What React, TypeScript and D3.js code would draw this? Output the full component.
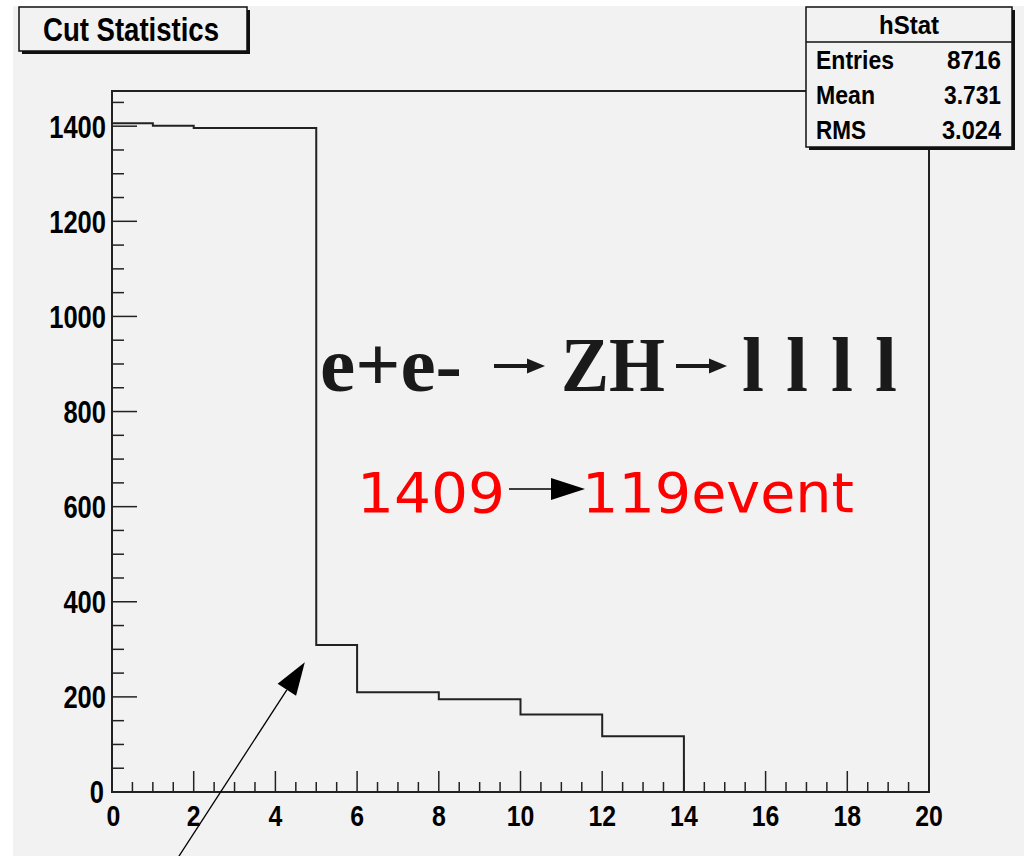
import React from "react";
import * as d3 from "d3";

// ---- data ----
const binEdges = [0,1,2,3,4,5,6,7,8,9,10,11,12,13,14,15,16,17,18,19,20];
const binCounts = [1406,1401,1396,1396,1396,309,210,210,195,195,163,163,117,117,0,0,0,0,0,0];
const xTicksMajor = [0,2,4,6,8,10,12,14,16,18,20];
const yTicksMajor = [0,200,400,600,800,1000,1200,1400];
const statLabels = ["Entries","Mean","RMS"];
const statValues = ["8716","3.731","3.024"];
const title = "Cut Statistics";
const statTitle = "hStat";
// annotation arrow in data units: [x, y] tail -> tip
const annoTail = [1.45, -160];
const annoTip = [4.72, 273];

const W = 1024, H = 856;
const X0 = 112, X1 = 929, Y0 = 792, Y1 = 91;
const BG = "#f2f2f2";
const INK = "#222";
const statLabelLen = [78, 59, 50];
const statValueLen = [54, 57, 59];

export default function App() {
  const x = d3.scaleLinear().domain([0, 20]).range([X0, X1]);
  const y = d3.scaleLinear().domain([0, 1474]).range([Y0, Y1]);

  const pts: [number, number][] = [[x(0), y(0)]];
  binCounts.forEach((c, i) => {
    pts.push([x(binEdges[i]), y(c)]);
    pts.push([x(binEdges[i + 1]), y(c)]);
  });
  pts.push([x(20), y(0)]);
  const histPath = d3.line()(pts) || "";

  const xMinor = d3.range(0, 20.001, 0.5);
  const yMinor = d3.range(0, 1474, 50);

  const tx = x(annoTip[0]), ty = y(annoTip[1]);
  const sx = x(annoTail[0]), sy = y(annoTail[1]);
  const len = Math.hypot(tx - sx, ty - sy);
  const ux = (tx - sx) / len, uy = (ty - sy) / len;
  const hl = 33, hw = 11;
  const bx = tx - hl * ux, by = ty - hl * uy;
  const head = `M${tx},${ty}L${bx + hw * -uy},${by + hw * ux}L${bx - hw * -uy},${by - hw * ux}Z`;

  const sans = "'Liberation Sans', Arial, sans-serif";

  const bigArrow = (x1: number, x2: number, yy: number) => (
    <g>
      <line x1={x1} x2={x2 - 14} y1={yy} y2={yy} stroke="#1a1a1a" strokeWidth={4} />
      <path d={`M${x2 - 18},${yy - 7.5}L${x2},${yy}L${x2 - 18},${yy + 7.5}Z`} fill="#1a1a1a" />
    </g>
  );

  return (
    <svg width={W} height={H} style={{ position: "absolute", left: 0, top: 0, background: "#fff" }}>
      <rect x={13} y={6} width={W - 13} height={H - 6} fill={BG} />

      <rect x={X0} y={Y1} width={X1 - X0} height={Y0 - Y1} fill="none" stroke={INK} strokeWidth={2} />

      <path d={histPath} fill="none" stroke={INK} strokeWidth={2} />

      {xMinor.map((v) => {
        const major = Math.abs(v / 2 - Math.round(v / 2)) < 1e-6;
        return <line key={"xt" + v} x1={x(v)} x2={x(v)} y1={Y0} y2={Y0 - (major ? 21 : 10)} stroke={INK} strokeWidth={1.5} />;
      })}
      {yMinor.map((v) => {
        const major = v % 200 === 0;
        return <line key={"yt" + v} x1={X0} x2={X0 + (major ? 25 : 12)} y1={y(v)} y2={y(v)} stroke={INK} strokeWidth={1.5} />;
      })}

      {xTicksMajor.map((v) => {
        const s = String(v);
        return (
          <text key={"xl" + v} x={x(v) + (v === 0 ? 1.5 : 0)} y={826} textAnchor="middle" fontFamily={sans} fontWeight="bold" fontSize={30}
            textLength={s.length * 13.8} lengthAdjust="spacingAndGlyphs" fill="#000">{s}</text>
        );
      })}
      {yTicksMajor.map((v) => {
        const s = String(v);
        return (
          <text key={"yl" + v} x={v === 0 ? 104 : 106} y={y(v) + (v === 0 ? 10.5 : 11.5)} textAnchor="end" fontFamily={sans} fontWeight="bold" fontSize={32}
            textLength={s.length * 14.2} lengthAdjust="spacingAndGlyphs" fill="#000">{s}</text>
        );
      })}

      <rect x={22} y={10} width={228} height={44} fill="#111" />
      <rect x={19} y={7} width={228} height={44} fill={BG} stroke="#111" strokeWidth={1.5} />
      <text x={43} y={41} fontFamily={sans} fontWeight="bold" fontSize={33} textLength={176} lengthAdjust="spacingAndGlyphs" fill="#000">{title}</text>

      <rect x={809} y={10} width={206} height={140} fill="#111" />
      <rect x={806} y={7} width={206} height={140} fill={BG} stroke="#111" strokeWidth={1.5} />
      <line x1={806} x2={1012} y1={42} y2={42} stroke="#111" strokeWidth={1.5} />
      <text x={909} y={34} textAnchor="middle" fontFamily={sans} fontWeight="bold" fontSize={25} textLength={60} lengthAdjust="spacingAndGlyphs" fill="#000">{statTitle}</text>
      {statLabels.map((l, i) => (
        <g key={l}>
          <text x={816} y={69 + i * 35} fontFamily={sans} fontWeight="bold" fontSize={26} fill="#000"
            textLength={statLabelLen[i]} lengthAdjust="spacingAndGlyphs">{l}</text>
          <text x={1001} y={69 + i * 35} textAnchor="end" fontFamily={sans} fontWeight="bold" fontSize={26} fill="#000"
            textLength={statValueLen[i]} lengthAdjust="spacingAndGlyphs">{statValues[i]}</text>
        </g>
      ))}

      <g fontFamily="'Liberation Serif', 'Times New Roman', serif" fontWeight="bold" fontSize={79} fill="#1a1a1a">
        <text x={320} y={391} textLength={142} lengthAdjust="spacingAndGlyphs">e+e-</text>
        <text x={561} y={391} textLength={104} lengthAdjust="spacingAndGlyphs">ZH</text>
        {[743, 787, 832, 876].map((lx) => (
          <text key={lx} x={lx - 1} y={391} textLength={22} lengthAdjust="spacingAndGlyphs">l</text>
        ))}
      </g>
      {bigArrow(494, 545, 366)}
      {bigArrow(676, 727, 366)}

      <g fontFamily="'DejaVu Sans', sans-serif" fontSize={55} fill="#ff0000">
        <text x={357} y={512} textLength={148} lengthAdjust="spacingAndGlyphs">1409</text>
        <text x={582} y={512} textLength={272} lengthAdjust="spacingAndGlyphs">119event</text>
      </g>
      <line x1={509} x2={552} y1={489} y2={489} stroke="#000" strokeWidth={1.3} />
      <path d="M551,478L585,489L551,500Z" fill="#000" />

      <line x1={sx} y1={sy} x2={bx} y2={by} stroke="#000" strokeWidth={1.3} />
      <path d={head} fill="#000" />
    </svg>
  );
}
